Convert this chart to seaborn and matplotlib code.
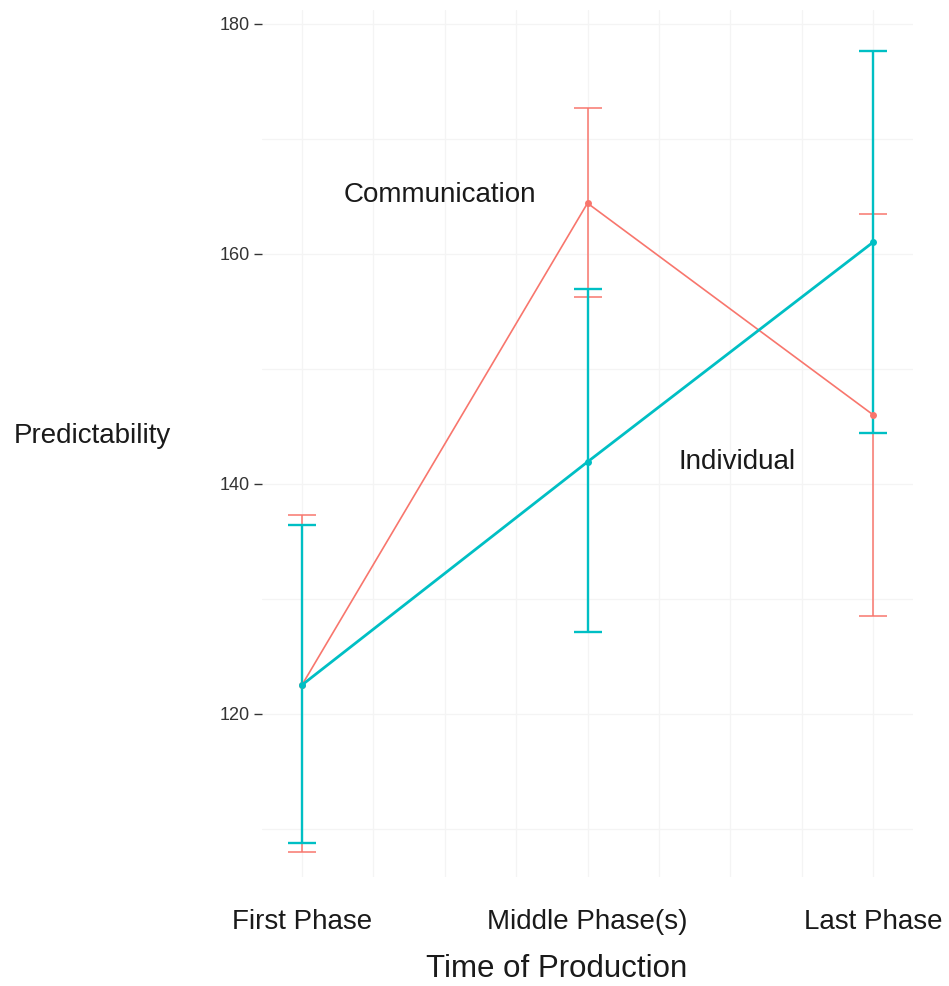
import numpy as np
import pandas as pd
import matplotlib
matplotlib.use("Agg")
import matplotlib.pyplot as plt
import seaborn as sns

# ---- data ----
phases = ["First Phase", "Middle Phase(s)", "Last Phase"]
groups = ["Communication", "Individual"]
comm_mean = [122.5, 164.4, 146.0]
comm_low = [108.0, 156.2, 128.5]
comm_high = [137.3, 172.7, 163.5]
ind_mean = [122.5, 141.9, 161.0]
ind_low = [108.8, 127.1, 144.4]
ind_high = [136.4, 156.9, 177.6]
y_ticks = [120, 140, 160, 180]

colors = {"Communication": "#F8766D", "Individual": "#00BFC4"}
lw = {"Communication": 1.2, "Individual": 2.0}
elw = {"Communication": 1.1, "Individual": 1.7}

df = pd.DataFrame({
    "phase": phases * 2,
    "group": ["Communication"] * 3 + ["Individual"] * 3,
    "mean": comm_mean + ind_mean,
    "low": comm_low + ind_low,
    "high": comm_high + ind_high,
})

sns.set_theme(style="white")
plt.rcParams["font.family"] = ["Liberation Sans", "DejaVu Sans"]

fig = plt.figure(figsize=(9.49, 9.86), dpi=100)
ax = fig.add_axes([262 / 949, 1 - 877 / 986, 651 / 949, 867 / 986])

# grid lines (light)
ax.set_xlim(-0.14, 2.14)
ax.set_ylim(105.8, 181.2)
for xv in np.arange(0, 2.1, 0.25):
    ax.axvline(xv, color="#F4F4F4", lw=0.9, zorder=0)
for yv in np.arange(110, 181, 10):
    ax.axhline(yv, color="#F4F4F4", lw=0.9, zorder=0)

for g in groups:
    sub = df[df["group"] == g]
    ax.errorbar(sub["phase"], sub["mean"],
                yerr=[sub["mean"] - sub["low"], sub["high"] - sub["mean"]],
                fmt="none", ecolor=colors[g], elinewidth=elw[g],
                capsize=10, capthick=elw[g], zorder=2)
    sns.lineplot(data=sub, x="phase", y="mean", color=colors[g], lw=lw[g],
                 marker="o", markersize=5, markeredgewidth=0,
                 sort=False, ax=ax, zorder=3, legend=False)

ax.set_xlim(-0.14, 2.14)
ax.set_ylim(105.8, 181.2)
ax.set_yticks(y_ticks)
ax.set_yticklabels([str(v) for v in y_ticks], fontsize=13, color="#333333")
ax.set_xticks(range(len(phases)))
ax.set_xticklabels(phases, fontsize=20, color="#1a1a1a")
ax.tick_params(axis="x", length=0, pad=23)
ax.tick_params(axis="y", length=6, width=1, color="#333333", pad=3, left=True)

for s in ax.spines.values():
    s.set_visible(False)

ax.set_xlabel("Time of Production", fontsize=22.5, color="#1a1a1a", va="center")
ax.xaxis.set_label_coords(0.453, -0.106)
ax.set_ylabel("Predictability", fontsize=20, rotation=0, color="#1a1a1a",
              ha="center", va="center")
ax.yaxis.set_label_coords(-0.261, 0.509)

ax.text(0.483, 165.1, "Communication", fontsize=20, ha="center", va="center",
        color="#1a1a1a")
ax.text(1.524, 141.9, "Individual", fontsize=20, ha="center", va="center",
        color="#1a1a1a")

fig.savefig("out.png", dpi=100)
